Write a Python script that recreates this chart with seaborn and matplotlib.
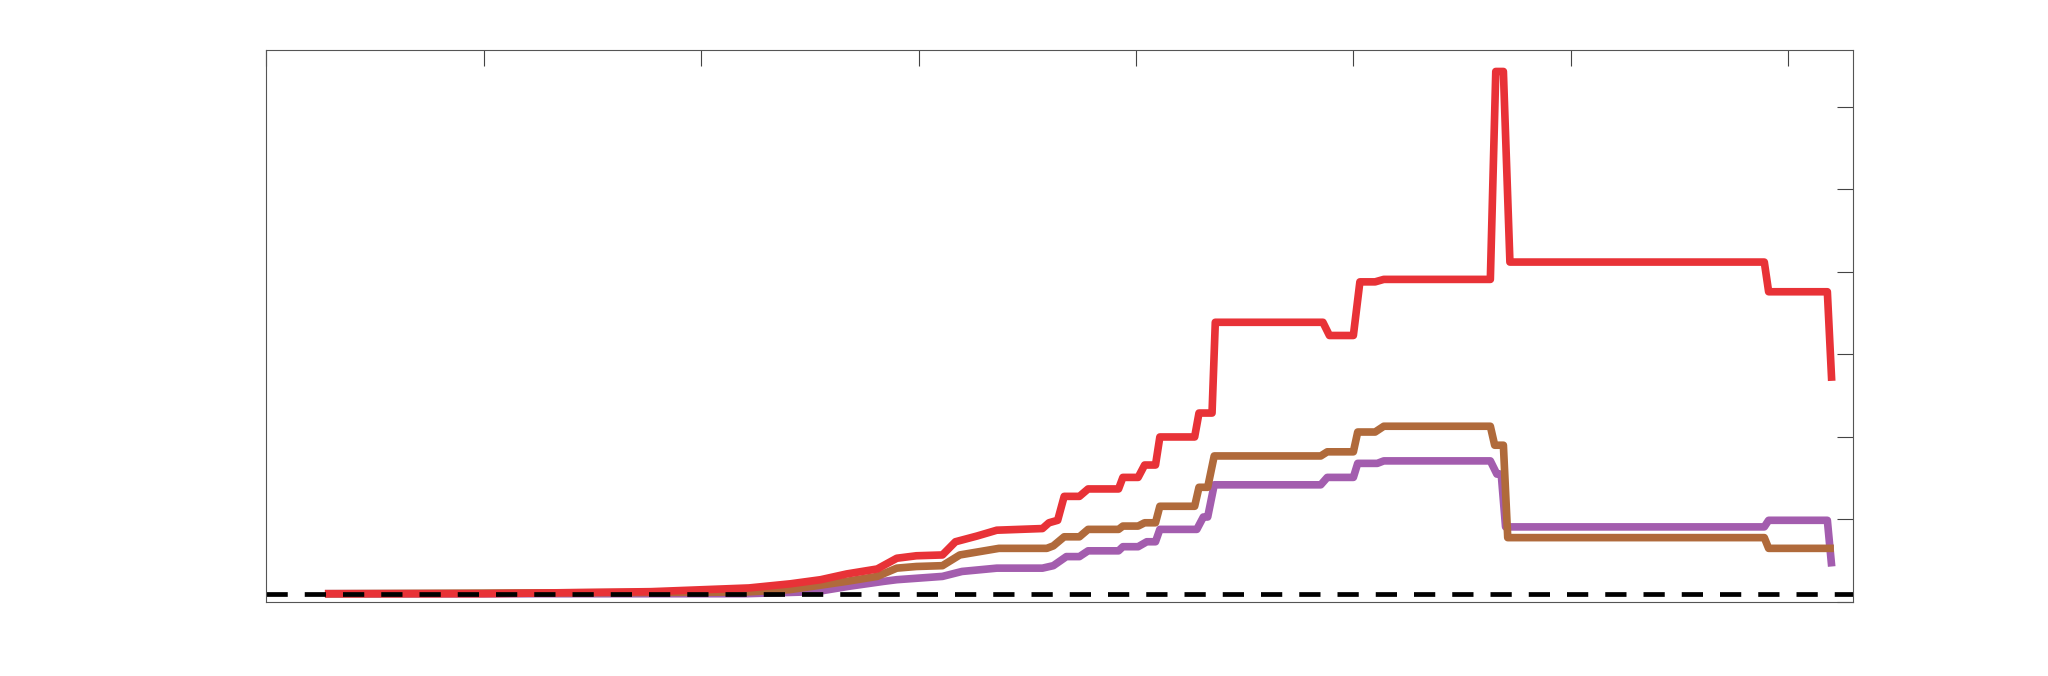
import matplotlib
matplotlib.use("Agg")
import matplotlib.pyplot as plt
import seaborn as sns
import pandas as pd

# ---- data ----
red_x = [0.27, 1.0, 1.77, 2.22, 2.41, 2.55, 2.67, 2.81, 2.90, 2.99, 3.11, 3.17, 3.27, 3.36,
         3.57, 3.60, 3.64, 3.67, 3.74, 3.78, 3.92, 3.94, 4.01, 4.04,
         4.09, 4.11, 4.27, 4.29, 4.35, 4.365, 4.86, 4.89, 5.00, 5.03, 5.10, 5.14, 5.63, 5.655,
         5.69, 5.72, 6.89, 6.91, 7.18, 7.20]
red_y = [0.10, 0.10, 0.125, 0.17, 0.22, 0.27, 0.34, 0.40, 0.53, 0.56, 0.57, 0.73, 0.80, 0.87,
         0.89, 0.96, 0.99, 1.28, 1.28, 1.37, 1.37, 1.51, 1.51, 1.66,
         1.66, 2.00, 2.00, 2.29, 2.29, 3.39, 3.39, 3.23, 3.23, 3.88, 3.88, 3.91, 3.91, 6.43,
         6.43, 4.12, 4.12, 3.76, 3.76, 2.68]

brown_x = [0.27, 2.2, 2.41, 2.67, 2.81, 2.90, 2.99, 3.11, 3.19, 3.28, 3.37, 3.59, 3.62, 3.67,
           3.74, 3.78, 3.92, 3.94, 4.01, 4.04, 4.09, 4.11, 4.27, 4.29, 4.33, 4.36, 4.85, 4.88,
           5.00, 5.02, 5.10, 5.14, 5.63, 5.65, 5.69, 5.71, 6.89, 6.91, 7.21]
brown_y = [0.10, 0.12, 0.15, 0.25, 0.31, 0.41, 0.43, 0.44, 0.57, 0.61, 0.65, 0.65, 0.68, 0.79,
           0.79, 0.88, 0.88, 0.92, 0.92, 0.96, 0.96, 1.16, 1.16, 1.39, 1.39, 1.77, 1.77, 1.82,
           1.82, 2.06, 2.06, 2.13, 2.13, 1.90, 1.90, 0.78, 0.78, 0.65, 0.65]

purple_x = [0.27, 1.5, 2.2, 2.53, 2.68, 2.84, 2.90, 3.11, 3.20, 3.36, 3.57, 3.62, 3.68, 3.74,
            3.78, 3.92, 3.94, 4.01, 4.05, 4.09, 4.11, 4.28, 4.31, 4.33, 4.36, 4.85, 4.88, 5.00,
            5.02, 5.11, 5.14, 5.63, 5.66, 5.68, 5.70, 6.89, 6.91, 7.18, 7.20]
purple_y = [0.10, 0.10, 0.10, 0.125, 0.19, 0.25, 0.27, 0.31, 0.37, 0.41, 0.41, 0.44, 0.55, 0.55,
            0.62, 0.62, 0.67, 0.67, 0.73, 0.73, 0.88, 0.88, 1.03, 1.03, 1.42, 1.42, 1.51, 1.51,
            1.68, 1.68, 1.71, 1.71, 1.55, 1.55, 0.91, 0.91, 0.99, 0.99, 0.43]

baseline_x = [0.0, 7.3]
baseline_y = [0.1, 0.1]

x_ticks = [0, 1, 2, 3, 4, 5, 6, 7]
y_ticks = [0, 1, 2, 3, 4, 5, 6]

# ---- plotting ----
sns.set_style("white")
fig, ax = plt.subplots(figsize=(20.48, 6.76), dpi=100)
fig.subplots_adjust(left=0.13, right=0.905, bottom=0.1095, top=0.926)

series = [
    (purple_x, purple_y, "#A35DAE"),
    (brown_x, brown_y, "#B06A3B"),
    (red_x, red_y, "#E83237"),
]
for xs, ys, col in series:
    df = pd.DataFrame({"x": xs, "y": ys})
    sns.lineplot(data=df, x="x", y="y", sort=False, estimator=None, color=col,
                 lw=5.5, ax=ax, solid_joinstyle="round", solid_capstyle="butt")

bdf = pd.DataFrame({"x": baseline_x, "y": baseline_y})
sns.lineplot(data=bdf, x="x", y="y", sort=False, estimator=None, color="black",
             lw=3.4, ax=ax)
ax.lines[-1].set_dashes((4.5, 3.6))
ax.lines[-1].set_dash_capstyle("butt")

ax.set_xlim(0, 7.3)
ax.set_ylim(0, 6.69)
ax.set_xticks(x_ticks)
ax.set_yticks(y_ticks)
ax.set_xlabel("")
ax.set_ylabel("")
ax.tick_params(direction="in", length=11.5, width=0.8, color="#444444",
               top=True, right=True, labelbottom=False, labelleft=False)
for s in ax.spines.values():
    s.set_visible(True)
    s.set_color("#555555")
    s.set_linewidth(0.8)

fig.savefig("out.png", dpi=100)
